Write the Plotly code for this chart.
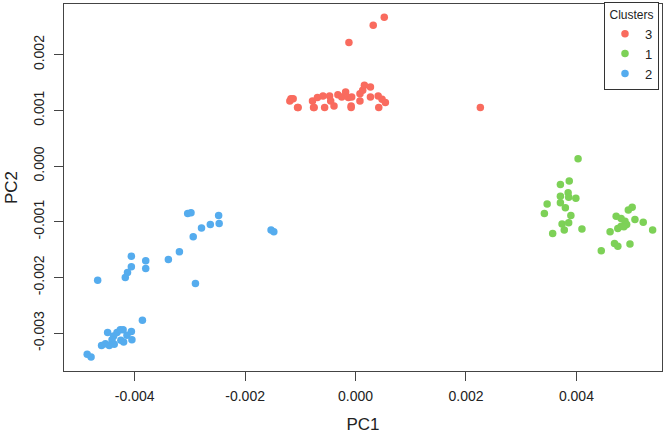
import plotly.graph_objects as go

# ---- data (PC1, PC2) per cluster ----
c3_pc1 = [0.00052, 0.00032, -0.00012, 0.00226, -0.00117, -0.00104, -0.00119, -0.00113,
          -0.00105, -0.00078, -0.00075, -0.00069, -0.00059, -0.00056, -0.00047, -0.00045,
          -0.00039, -0.00032, -0.00025, -0.00018, -0.00013, -0.00008, -0.00007, 0.00008,
          0.00008, 0.00013, 0.00016, 0.00027, 0.00027, 0.00041, 0.00042, 0.00048, 0.00054,
          -0.00008, -0.00076]
c3_pc2 = [0.00267, 0.00253, 0.00222, 0.00105, 0.00121, 0.00105, 0.00117, 0.00121,
          0.00105, 0.00117, 0.00105, 0.00123, 0.00126, 0.00105, 0.00126, 0.00117,
          0.00108, 0.00128, 0.00124, 0.00133, 0.00123, 0.00108, 0.00124, 0.00130,
          0.00117, 0.00136, 0.00145, 0.00142, 0.00124, 0.00126, 0.00105, 0.00120, 0.00114,
          0.00105, 0.00105]

c1_pc1 = [0.00403, 0.00387, 0.00371, 0.00385, 0.00371, 0.00386, 0.00399, 0.00371,
          0.00347, 0.00380, 0.00342, 0.00390, 0.00374, 0.00386, 0.00378, 0.00410, 0.00357,
          0.00501, 0.00494, 0.00472, 0.00481, 0.00488, 0.00506, 0.00521, 0.00491, 0.00481,
          0.00475, 0.00538, 0.00461, 0.00469, 0.00475, 0.00497, 0.00445, 0.00486]
c1_pc2 = [0.00013, -0.00027, -0.00033, -0.00048, -0.00054, -0.00056, -0.00058, -0.00066,
          -0.00068, -0.00075, -0.00085, -0.00089, -0.00104, -0.00102, -0.00115, -0.00113, -0.00121,
          -0.00074, -0.00079, -0.00090, -0.00094, -0.00099, -0.00096, -0.00101, -0.00105, -0.00108,
          -0.00112, -0.00115, -0.00118, -0.00139, -0.00144, -0.00140, -0.00152, -0.00109]

c2_pc1 = [-0.00304, -0.00298, -0.00248, -0.00247, -0.00263, -0.00279, -0.00294, -0.00319,
          -0.00339, -0.00153, -0.00148, -0.00406, -0.00380, -0.00406, -0.00380, -0.00413,
          -0.00417, -0.00467, -0.00290, -0.00386, -0.00449, -0.00432, -0.00426, -0.00421,
          -0.00406, -0.00414, -0.00438, -0.00441, -0.00425, -0.00405, -0.00420, -0.00437,
          -0.00446, -0.00460, -0.00453, -0.00486, -0.00479]
c2_pc2 = [-0.00085, -0.00084, -0.00089, -0.00103, -0.00105, -0.00111, -0.00127, -0.00154,
          -0.00168, -0.00115, -0.00118, -0.00162, -0.00170, -0.00181, -0.00184, -0.00191,
          -0.00200, -0.00205, -0.00211, -0.00277, -0.00299, -0.00299, -0.00294, -0.00294,
          -0.00297, -0.00304, -0.00305, -0.00312, -0.00313, -0.00312, -0.00316, -0.00320,
          -0.00322, -0.00322, -0.00319, -0.00338, -0.00343]

cluster_names = ["3", "1", "2"]
cluster_colors = ["#F96B5E", "#7DD157", "#55ACEE"]

x_tickvals = [-0.004, -0.002, 0.0, 0.002, 0.004]
x_ticktext = ["-0.004", "-0.002", "0.000", "0.002", "0.004"]
y_tickvals = [-0.003, -0.002, -0.001, 0.0, 0.001, 0.002]
y_ticktext = ["-0.003", "-0.002", "-0.001", "0.000", "0.001", "0.002"]

FONT = "Liberation Sans, Arial, Helvetica, sans-serif"
AXC = "#444444"

fig = go.Figure()
for name, color, xs, ys in zip(cluster_names, cluster_colors,
                               [c3_pc1, c1_pc1, c2_pc1], [c3_pc2, c1_pc2, c2_pc2]):
    fig.add_trace(go.Scatter(x=xs, y=ys, mode="markers", name=name,
                             marker=dict(color=color, size=7.5, line=dict(width=0))))

fig.update_layout(
    width=666, height=441,
    margin=dict(l=64, r=4, t=2, b=70),
    paper_bgcolor="white", plot_bgcolor="white",
    font=dict(family=FONT, size=13, color="#222222"),
    showlegend=True,
    legend=dict(
        title=dict(text="Clusters", font=dict(size=12), side="top center"),
        x=0.903, xanchor="left", y=1.005, yanchor="top",
        bgcolor="white", bordercolor="#333333", borderwidth=1,
        font=dict(size=13), tracegroupgap=0, itemwidth=30,
    ),
    xaxis=dict(
        range=[-0.00528, 0.00555], autorange=False,
        tickvals=x_tickvals, ticktext=x_ticktext,
        showgrid=False, zeroline=False,
        showline=True, linecolor=AXC, linewidth=1, mirror=True,
        ticks="outside", ticklen=9, tickcolor=AXC, tickwidth=1,
        ticklabelstandoff=3,
        tickfont=dict(size=14, color="#222222"),
        title=dict(text="PC1", font=dict(size=17), standoff=15),
        automargin=False,
    ),
    yaxis=dict(
        range=[-0.00368, 0.00291], autorange=False,
        tickvals=y_tickvals, ticktext=y_ticktext, tickangle=-90,
        showgrid=False, zeroline=False,
        showline=True, linecolor=AXC, linewidth=1, mirror=True,
        ticks="outside", ticklen=9, tickcolor=AXC, tickwidth=1,
        ticklabelstandoff=4,
        tickfont=dict(size=14, color="#222222"),
        title=dict(text="PC2", font=dict(size=17), standoff=9),
        automargin=False,
    ),
)

fig.write_html("out.html")
